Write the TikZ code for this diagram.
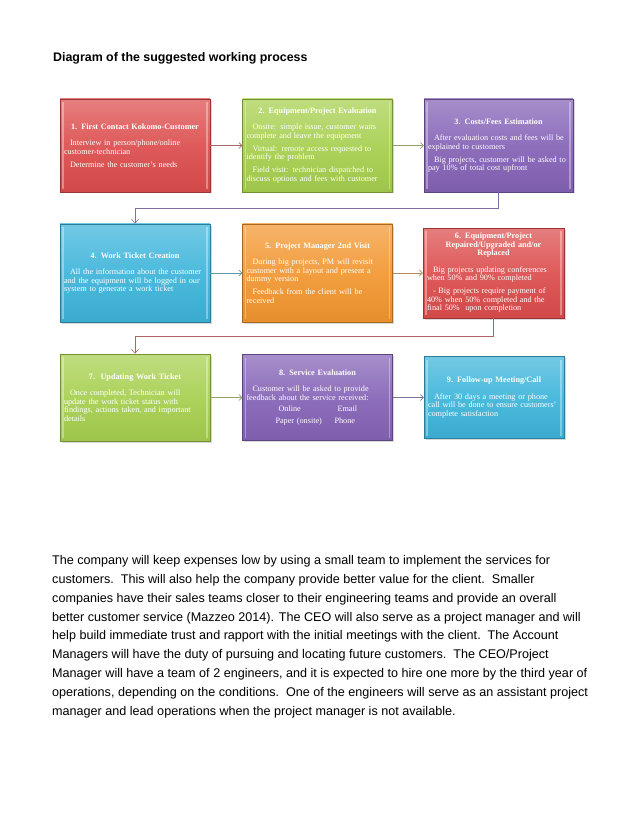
\documentclass[tikz,border=0pt]{standalone}
\usepackage{fontspec}
\setmainfont{Liberation Serif}
\newfontfamily\arialfont{Liberation Sans}
\usetikzlibrary{arrows.meta,positioning,shadows}

\definecolor{redbox}{HTML}{DC4C4C}
\definecolor{greenbox}{HTML}{A6CF4E}
\definecolor{purplebox}{HTML}{8462B6}
\definecolor{cyanbox}{HTML}{3CB4DA}
\definecolor{orangebox}{HTML}{F2962F}

\setlength{\parindent}{0pt}
\newcommand{\boxfont}{\fontsize{8.2}{8.5}\selectfont}
\newcommand{\steptitle}[1]{{\centering\bfseries #1\par}\vspace{3.5pt}}
\newcommand{\stepitem}[1]{\par\vspace{4.5pt}\hspace*{6pt}#1}

\begin{document}
\begin{tikzpicture}[x=1pt, y=-1pt,
  card/.style={draw=#1!70!black, line width=0.5pt, top color=#1!72!white,
    bottom color=#1!95!black, middle color=#1!92!white, text=white, align=left,
    inner sep=4pt, font=\boxfont,
    drop shadow={opacity=0.3, shadow xshift=1.5pt, shadow yshift=-1.5pt},
    path picture={
      \draw[white, opacity=0.35, line width=1.6pt]
        ([xshift=3pt,yshift=-3pt]path picture bounding box.north west)
        -- ([xshift=3pt,yshift=3pt]path picture bounding box.south west)
        ([xshift=-3pt,yshift=-3pt]path picture bounding box.north east)
        -- ([xshift=-3pt,yshift=3pt]path picture bounding box.south east);}},
  link/.style={-{Straight Barb[length=3pt,width=6pt]}, semithick, draw=#1!45!gray},
  elbow/.style={-{Straight Barb[length=4pt,width=7pt]}, semithick, draw=#1}
]
\path[use as bounding box, fill=white] (0,0) rectangle (638,826);

\node[anchor=base west, inner sep=0, font=\arialfont\bfseries\fontsize{12.4}{14}\selectfont] (heading)
  at (53,62) {Diagram of the suggested working process};

% row 1
\node[card=redbox, text width=142pt, minimum height=93pt] (b1) at (135,145.5)
  {\steptitle{1. First Contact Kokomo-Customer}
   \stepitem{Interview in person/phone/online\\customer-technician}
   \stepitem{Determine the customer's needs}};
\node[card=greenbox, text width=142pt, minimum height=93pt, right=32pt of b1] (b2)
  {\steptitle{2. Equipment/Project Evaluation}
   \stepitem{Onsite: simple issue, customer waits\\complete and leave the equipment}
   \stepitem{Virtual: remote access requested to\\identify the problem}
   \stepitem{Field visit: technician dispatched to\\discuss options and fees with customer}};
\node[card=purplebox, text width=141pt, minimum height=93pt, right=31pt of b2] (b3)
  {\steptitle{3. Costs/Fees Estimation}
   \stepitem{After evaluation costs and fees will be\\explained to customers}
   \stepitem{Big projects, customer will be asked to\\pay 10\% of total cost upfront}};

% row 2
\node[card=cyanbox, text width=142pt, minimum height=98pt] (b4) at (135,273)
  {\steptitle{4. Work Ticket Creation}
   \stepitem{All the information about the customer\\and the equipment will be logged in our\\system to generate a work ticket}};
\node[card=orangebox, text width=142pt, minimum height=98pt, right=32pt of b4] (b5)
  {\steptitle{5. Project Manager 2nd Visit}
   \stepitem{During big projects, PM will revisit\\customer with a layout and present a\\dummy version}
   \stepitem{Feedback from the client will be\\received}};
\node[card=redbox, text width=133pt, minimum height=90pt, right=30pt of b5] (b6)
  {\steptitle{6. Equipment/Project\\Repaired/Upgraded and/or\\Replaced}
   \stepitem{Big projects updating conferences\\when 50\% and 90\% completed}
   \stepitem{- Big projects require payment of\\40\% when 50\% completed and the\\final 50\%\ \ upon completion}};

% row 3
\node[card=greenbox, text width=142pt, minimum height=87pt] (b7) at (135,397.5)
  {\steptitle{7.\ \ Updating Work Ticket}
   \stepitem{Once completed, Technician will\\update the work ticket status with\\findings, actions taken, and important\\details}};
\node[card=purplebox, text width=142pt, minimum height=86pt, right=32pt of b7] (b8)
  {\steptitle{8. Service Evaluation}
   \stepitem{Customer will be asked to provide\\feedback about the service received:}
   \par\vspace{3pt}\hspace*{32pt}\makebox[59pt][l]{Online}Email
   \par\vspace{3pt}\hspace*{29pt}\makebox[59pt][l]{Paper (onsite)}Phone};
\node[card=cyanbox, text width=132pt, minimum height=82pt, right=31pt of b8] (b9)
  {\steptitle{9. Follow-up Meeting/Call}
   \stepitem{After 30 days a meeting or phone\\call will be done to ensure customers'\\complete satisfaction}};

% connectors
\draw[link=redbox] (b1) -- (b2);
\draw[link=greenbox] (b2) -- (b3);
\draw[link=cyanbox] (b4) -- (b5);
\draw[link=orangebox] (b5) -- (b6);
\draw[link=greenbox] (b7) -- (b8);
\draw[link=purplebox] (b8) -- (b9);
\draw[elbow=purplebox!60!gray] (b3.south) -- ++(0,16) -| (b4.north);
\draw[elbow=redbox!55!gray] (b6.south) -- ++(0,18) -| (b7.north);

% text below the diagram
\node[anchor=north west, inner sep=0, align=left,
  font=\arialfont\fontsize{12.6}{18.9}\selectfont] (body) at (52,555)
  {The company will keep expenses low by using a small team to implement the services for\\
   customers.\ \ This will also help the company provide better value for the client.\ \ Smaller\\
   companies have their sales teams closer to their engineering teams and provide an overall\\
   better customer service (Mazzeo 2014). The CEO will also serve as a project manager and will\\
   help build immediate trust and rapport with the initial meetings with the client.\ \ The Account\\
   Managers will have the duty of pursuing and locating future customers.\ \ The CEO/Project\\
   Manager will have a team of 2 engineers, and it is expected to hire one more by the third year of\\
   operations, depending on the conditions.\ \ One of the engineers will serve as an assistant project\\
   manager and lead operations when the project manager is not available.};
\end{tikzpicture}
\end{document}
